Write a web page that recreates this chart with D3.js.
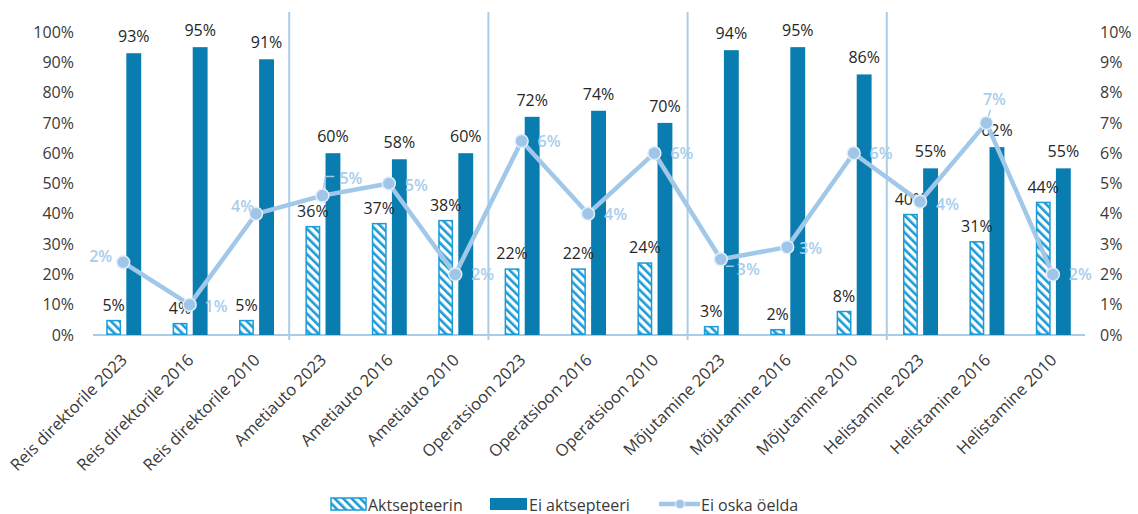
<!DOCTYPE html>
<html>
<head>
<meta charset="utf-8">
<script src="https://cdn.jsdelivr.net/npm/d3@7"></script>
<style>
  html, body { margin: 0; padding: 0; background: #fff; }
  svg { display: block; font-family: "Open Sans", "Noto Sans", sans-serif; }
</style>
</head>
<body>
<svg id="chart" width="1138" height="514"></svg>
<script>
// ---- data ----
const categories = [
  "Reis direktorile 2023", "Reis direktorile 2016", "Reis direktorile 2010",
  "Ametiauto 2023", "Ametiauto 2016", "Ametiauto 2010",
  "Operatsioon 2023", "Operatsioon 2016", "Operatsioon 2010",
  "Mõjutamine 2023", "Mõjutamine 2016", "Mõjutamine 2010",
  "Helistamine 2023", "Helistamine 2016", "Helistamine 2010"
];
const aktsepteerin   = [5, 4, 5, 36, 37, 38, 22, 22, 24, 3, 2, 8, 40, 31, 44];
const eiAktsepteeri  = [93, 95, 91, 60, 58, 60, 72, 74, 70, 94, 95, 86, 55, 62, 55];
const eiOskaOelda    = [2.4, 1.0, 4.0, 4.6, 5.0, 2.0, 6.4, 4.0, 6.0, 2.5, 2.9, 6.0, 4.4, 7.0, 2.0];
const leftTicks  = [0, 10, 20, 30, 40, 50, 60, 70, 80, 90, 100];
const rightTicks = [0, 1, 2, 3, 4, 5, 6, 7, 8, 9, 10];
const seriesNames = ["Aktsepteerin", "Ei aktsepteeri", "Ei oska öelda"];
const groupSize = 3;

// ---- layout (not data) ----
// line label placement: [dx, dy(baseline), anchor, leader]
const lineLabelPlacement = [
  [-11, 0, "end", null],
  [15, 7, "start", null],
  [-2, -2, "end", null],
  [17, -12, "start", [[0, 0], [3, -19], [12, -19]]],
  [16, 7, "start", null],
  [16, 6, "start", null],
  [16, 6, "start", null],
  [16, 6, "start", null],
  [16, 6, "start", null],
  [16, 16, "start", [[5, 7], [13, 7]]],
  [12, 7, "start", null],
  [16, 6, "start", null],
  [16, 8, "start", null],
  [8, -18, "middle", [[0, 0], [4, -13]]],
  [16, 6, "start", null]
];

const C = {
  solid: "#0a7db0",
  hatch: "#1b9bd7",
  line: "#a2c8e9",
  lineLabel: "#a9cdeb",
  axis: "#a9cde9",
  text: "#3a3a3a",
  barLabel: "#262626"
};

const svg = d3.select("#chart");
const defs = svg.append("defs");
const pat = defs.append("pattern")
  .attr("id", "hatch")
  .attr("patternUnits", "userSpaceOnUse")
  .attr("width", 6).attr("height", 6)
  .attr("patternTransform", "rotate(-45)");
pat.append("rect").attr("width", 6).attr("height", 6).attr("fill", "#fff");
pat.append("rect").attr("x", 0).attr("width", 2.6).attr("height", 6).attr("fill", C.hatch);

const x = d3.scaleBand().domain(categories).range([90, 1086]).padding(0);
const y = d3.scaleLinear().domain([0, 100]).range([335, 32]);
const y2 = d3.scaleLinear().domain([0, 10]).range([335, 32]);
const cx = c => x(c) + x.bandwidth() / 2;

// sub scale for the two bars within a category
const sub = d3.scaleBand().domain(["a", "b"]).range([-18, 19]).paddingInner(0.26).paddingOuter(0.05);

// separators
const sepIdx = d3.range(groupSize, categories.length, groupSize);
svg.append("g").selectAll("line").data(sepIdx).join("line")
  .attr("x1", i => x(categories[i])).attr("x2", i => x(categories[i]))
  .attr("y1", 12).attr("y2", 340)
  .attr("stroke", C.axis).attr("stroke-width", 2);

// baseline
svg.append("line")
  .attr("x1", 93).attr("x2", 1085)
  .attr("y1", y(0)).attr("y2", y(0))
  .attr("stroke", C.axis).attr("stroke-width", 2);

// left axis
const gl = svg.append("g").attr("transform", "translate(74,0)")
  .call(d3.axisLeft(y).tickValues(leftTicks).tickFormat(d => d + "%").tickSize(0).tickPadding(0));
gl.select(".domain").remove();
gl.selectAll("text").attr("fill", C.text).style("font-size", "16px").style("font-family", "'Open Sans', sans-serif");

// right axis
const gr = svg.append("g").attr("transform", "translate(1100,0)")
  .call(d3.axisRight(y2).tickValues(rightTicks).tickFormat(d => d + "%").tickSize(0).tickPadding(0));
gr.select(".domain").remove();
gr.selectAll("text").attr("fill", C.text).style("font-size", "16px").style("font-family", "'Open Sans', sans-serif");

// bars: aktsepteerin (hatched)
svg.append("g").selectAll("rect").data(categories).join("rect")
  .attr("x", c => cx(c) + sub("a") + 0.75)
  .attr("y", (c, i) => y(aktsepteerin[i]) + 0.75)
  .attr("width", sub.bandwidth() - 1.5)
  .attr("height", (c, i) => Math.max(0, y(0) - y(aktsepteerin[i]) - 1.5))
  .attr("fill", "url(#hatch)")
  .attr("stroke", C.hatch).attr("stroke-width", 1.5);

// bars: ei aktsepteeri (solid)
svg.append("g").selectAll("rect").data(categories).join("rect")
  .attr("x", c => cx(c) + sub("b"))
  .attr("y", (c, i) => y(eiAktsepteeri[i]))
  .attr("width", sub.bandwidth())
  .attr("height", (c, i) => y(0) - y(eiAktsepteeri[i]))
  .attr("fill", C.solid);

// bar labels
svg.append("g").selectAll("text").data(categories).join("text")
  .attr("x", c => cx(c) + sub("a") + sub.bandwidth() / 2)
  .attr("y", (c, i) => y(aktsepteerin[i]) - 9)
  .attr("text-anchor", "middle")
  .attr("fill", C.barLabel).style("font-size", "16px")
  .text((c, i) => aktsepteerin[i] + "%");
svg.append("g").selectAll("text").data(categories).join("text")
  .attr("x", c => cx(c) + sub("b") + sub.bandwidth() / 2)
  .attr("y", (c, i) => y(eiAktsepteeri[i]) - 11)
  .attr("text-anchor", "middle")
  .attr("fill", C.barLabel).style("font-size", "16px")
  .text((c, i) => eiAktsepteeri[i] + "%");

// line
const lineGen = d3.line().x((d, i) => cx(categories[i])).y(d => y2(d));
svg.append("path").datum(eiOskaOelda)
  .attr("d", lineGen)
  .attr("fill", "none").attr("stroke", C.line).attr("stroke-width", 4.5)
  .attr("stroke-linejoin", "round");

// leaders
const gLead = svg.append("g");
eiOskaOelda.forEach((v, i) => {
  const pl = lineLabelPlacement[i];
  if (!pl[3]) return;
  const px = cx(categories[i]), py = y2(v);
  gLead.append("polyline")
    .attr("points", pl[3].map(p => (px + p[0]) + "," + (py + p[1])).join(" "))
    .attr("fill", "none").attr("stroke", C.line).attr("stroke-width", 1.5);
});

// markers
svg.append("g").selectAll("circle").data(eiOskaOelda).join("circle")
  .attr("cx", (d, i) => cx(categories[i]))
  .attr("cy", d => y2(d))
  .attr("r", 6.5)
  .attr("fill", "#9fc6e8")
  .attr("stroke", "#e3eef9").attr("stroke-width", 1.5);

// line labels
svg.append("g").selectAll("text").data(eiOskaOelda).join("text")
  .attr("x", (d, i) => cx(categories[i]) + lineLabelPlacement[i][0])
  .attr("y", (d, i) => y2(d) + lineLabelPlacement[i][1])
  .attr("text-anchor", (d, i) => lineLabelPlacement[i][2])
  .attr("fill", C.lineLabel).style("font-size", "16px").style("font-weight", 600)
  .text(d => Math.round(d) + "%");

// x labels
svg.append("g").selectAll("text").data(categories).join("text")
  .attr("transform", c => `translate(${cx(c) + 5},${361}) rotate(-45)`)
  .attr("text-anchor", "end")
  .attr("fill", C.text).style("font-size", "16.5px")
  .text(c => c);

// legend
const lg = svg.append("g").attr("transform", "translate(0,505)");
lg.append("rect").attr("x", 331).attr("y", -7).attr("width", 35).attr("height", 12)
  .attr("fill", "url(#hatch)").attr("stroke", C.hatch).attr("stroke-width", 1.5);
lg.append("text").attr("x", 368).attr("y", 5.5).attr("fill", C.text).style("font-size", "16px").text(seriesNames[0]);
lg.append("rect").attr("x", 490).attr("y", -7).attr("width", 37).attr("height", 12).attr("fill", C.solid);
lg.append("text").attr("x", 529).attr("y", 5.5).attr("fill", C.text).style("font-size", "16px").text(seriesNames[1]);
lg.append("line").attr("x1", 659).attr("x2", 700).attr("y1", -1).attr("y2", -1)
  .attr("stroke", C.line).attr("stroke-width", 4.5);
lg.append("circle").attr("cx", 680).attr("cy", -1).attr("r", 4.5)
  .attr("fill", "#9fc6e8").attr("stroke", "#e3eef9").attr("stroke-width", 1.2);
lg.append("text").attr("x", 701).attr("y", 5.5).attr("fill", C.text).style("font-size", "16px").text(seriesNames[2]);
</script>
</body>
</html>
